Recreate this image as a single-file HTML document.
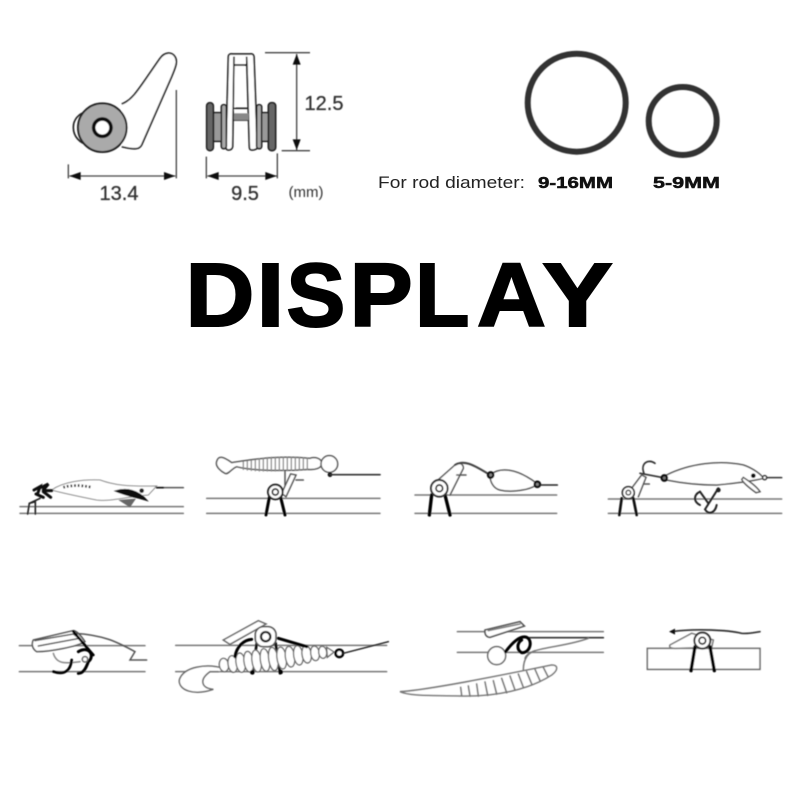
<!DOCTYPE html>
<html><head><meta charset="utf-8"><style>
html,body{margin:0;padding:0;background:#fff}
svg{display:block}
text{font-family:"Liberation Sans",sans-serif}
</style></head><body>
<svg width="800" height="800" viewBox="0 0 800 800" xmlns="http://www.w3.org/2000/svg">
<defs><filter id="b" x="-5%" y="-5%" width="110%" height="110%"><feGaussianBlur stdDeviation="0.55"/></filter></defs>
<rect width="800" height="800" fill="#fff"/>

<g filter="url(#b)"><g transform="translate(50 30) scale(.33333)" fill="none" stroke="#222" stroke-width="5">
 <path d="M215 222C250 210 270 170 330 85C345 65 365 65 375 80C385 95 375 115 365 140L275 345C268 358 255 360 215 350" fill="#fff"/>
 <path d="M110 245C85 250 70 270 70 292C70 320 90 340 115 345" stroke-width="5"/>
 <circle cx="157" cy="293" r="73" fill="#aaa" stroke="#222" stroke-width="6"/>
 <circle cx="157" cy="293" r="26" fill="#fff" stroke="#111" stroke-width="11"/>
 <path d="M379 180V445M55 403V445M58 438H376" stroke-width="4" stroke="#444"/>
 <path d="M58 438L92 426V450ZM376 438L342 426V450Z" fill="#111" stroke="none"/>
 <path d="M528 350L535 80Q536 70 548 72H600Q610 70 612 80L622 350Q622 360 605 360Q598 360 598 350L590 80M552 80L548 350Q546 360 535 360Q528 360 528 350M552 105H590M552 235H592M550 255H597M550 270H597" fill="#fff"/>
 <path d="M552 250H596V270H552Z" fill="#888" stroke="none"/>
 <rect x="490" y="248" width="26" height="86" fill="#999"/>
 <rect x="470" y="218" width="20" height="144" rx="10" fill="#666"/>
 <rect x="514" y="224" width="15" height="132" rx="7" fill="#aaa"/>
 <rect x="634" y="248" width="24" height="86" fill="#999"/>
 <rect x="655" y="218" width="22" height="144" rx="10" fill="#666"/>
 <rect x="620" y="224" width="15" height="132" rx="7" fill="#aaa"/>
 <path d="M645 68H780M695 362H780M740 72V360M469 380V445M682 370V445M472 438H680" stroke-width="4" stroke="#444"/>
 <path d="M740 72L728 104H752ZM740 360L728 328H752ZM472 438L506 426V450ZM680 438L646 426V450Z" fill="#111" stroke="none"/>
</g>
<text x="119" y="200" font-size="20" fill="#333" stroke="#333" stroke-width=".3" text-anchor="middle">13.4</text>
<text x="245" y="200" font-size="20" fill="#333" stroke="#333" stroke-width=".3" text-anchor="middle">9.5</text>
<text x="324" y="110" font-size="20" fill="#333" stroke="#333" stroke-width=".3" text-anchor="middle">12.5</text>
<text x="306" y="197" font-size="15" fill="#333" text-anchor="middle">(mm)</text>
<circle cx="576.7" cy="102.7" r="49" fill="none" stroke="#333" stroke-width="6"/>
<circle cx="682.7" cy="121" r="34" fill="none" stroke="#333" stroke-width="6"/>
</g>
<text x="378" y="188" font-size="17" fill="#222" textLength="147" lengthAdjust="spacingAndGlyphs">For rod diameter:</text>
<text x="538" y="188" font-size="15.5" font-weight="700" fill="#111" stroke="#111" stroke-width=".5" textLength="75" lengthAdjust="spacingAndGlyphs">9-16MM</text>
<text x="653" y="188" font-size="15.5" font-weight="700" fill="#111" stroke="#111" stroke-width=".5" textLength="67" lengthAdjust="spacingAndGlyphs">5-9MM</text>

<g font-size="90" font-weight="700" fill="#000" stroke="#000" stroke-width="2">
 <text transform="translate(185.5 326) scale(1.06 1)">D</text>
 <text transform="translate(256.5 326) scale(1.115 1)">I</text>
 <text transform="translate(286.5 326) scale(.98 1)">S</text>
 <text transform="translate(349.6 326) scale(1.05 1)">P</text>
 <text transform="translate(415 326) scale(.99 1)">L</text>
 <text transform="translate(477 326) scale(1.06 1)">A</text>
 <text transform="translate(542.4 326) scale(1.17 1)">Y</text>
</g>

<g filter="url(#b)">
<g transform="translate(10 440) scale(.33333)" fill="none" stroke="#666" stroke-width="4.5" stroke-linecap="round">
 <path d="M30 200H520M30 220H520M590 175H1110M590 220H1110" stroke="#777"/>
 <path d="M125 150C160 125 220 118 270 120C310 135 350 140 440 138L415 165C350 170 300 185 260 180C210 170 160 160 125 150Z" fill="#fff" stroke="#888" stroke-width="3"/>
 <path d="M72 150L90 140L84 158M95 142L115 132L100 150M78 162L100 172M100 155L122 172M105 152L125 152" stroke="#111" stroke-width="9"/>
 <path d="M160 142C185 135 215 135 245 142" stroke="#111" stroke-width="8" stroke-dasharray="5 6" stroke-linecap="butt"/>
 <path d="M315 153C350 142 385 150 412 182C380 172 350 168 315 153Z" fill="#111" stroke="#111" stroke-width="3"/>
 <path d="M325 180L378 176L360 202Z" fill="#666" stroke="none"/>
 <circle cx="395" cy="152" r="7" fill="#222" stroke="none"/>
 <path d="M440 143H520" stroke="#555"/><path d="M440 143H460" stroke="#111" stroke-width="5"/>
 <path d="M53 222L58 190L76 185V222M58 190L90 175" stroke="#222" stroke-width="5"/>

 <path d="M620 65C625 45 640 50 665 68C720 60 800 45 900 55C915 50 935 55 935 70C935 85 915 90 895 88C800 95 720 90 680 80C665 85 655 105 645 100C635 95 615 80 620 65Z" fill="#fff" stroke="#555"/>
 <path d="M700 66V88M712 64V90M724 62V91M736 60V92M748 57V93M760 55V93M772 53V93M784 52V93M796 52V93M808 52V92M820 52V92M832 52V92M844 52V91M856 52V91M868 53V90M880 54V89M892 55V88" stroke="#888" stroke-width="4"/>
 <circle cx="958" cy="72" r="25" fill="#fff" stroke="#555"/>
 <circle cx="960" cy="104" r="7" fill="#111" stroke="none"/>
 <path d="M960 104H1110" stroke="#333" stroke-width="5"/>
 <path d="M825 95V135M858 120H880" stroke="#555"/>
 <path d="M815 160L842 102L858 105L828 170Z" fill="#fff" stroke="#555"/>
 <path d="M778 172L768 225M812 172L825 225" stroke="#000" stroke-width="9"/>
 <circle cx="796" cy="156" r="22" fill="#fff" stroke="#222" stroke-width="6"/>
 <circle cx="796" cy="156" r="9" fill="#fff" stroke="#222" stroke-width="5"/>
</g>

<g transform="translate(400 440) scale(.33333)" fill="none" stroke="#666" stroke-width="4.5" stroke-linecap="round">
 <path d="M45 165H470M45 220H470M625 177H1145M625 220H1145" stroke="#777"/>
 <path d="M105 128L165 75C175 65 190 70 190 85L150 165M170 105H198" fill="#fff" stroke="#555"/>
 <path d="M165 75C190 60 215 70 270 105" stroke="#444" stroke-width="6"/>
 <path d="M270 105C300 80 350 85 410 130C410 145 340 160 300 150C280 145 270 125 270 105Z" fill="#fff" stroke="#555"/>
 <circle cx="272" cy="105" r="8" fill="#888" stroke="#111" stroke-width="7"/>
 <circle cx="412" cy="133" r="8" fill="#888" stroke="#111" stroke-width="7"/>
 <path d="M420 135H472" stroke="#222"/>
 <path d="M95 165L88 225M135 165L150 225" stroke="#000" stroke-width="10"/>
 <circle cx="118" cy="145" r="25" fill="#fff" stroke="#333" stroke-width="6"/>
 <circle cx="118" cy="145" r="10" fill="#fff" stroke="#222" stroke-width="5"/>

 <path d="M800 105C870 70 960 60 1030 75C1060 85 1085 105 1090 115C1050 125 1000 130 950 135C900 135 850 130 800 120Z" fill="#fff" stroke="#555"/>
 <path d="M1030 112C1050 125 1070 140 1080 155L1068 158C1050 145 1030 130 1025 118Z" fill="#fff" stroke="#555"/>
 <circle cx="1060" cy="107" r="7" fill="#111" stroke="none"/>
 <circle cx="1094" cy="113" r="6" fill="#fff" stroke="#333"/>
 <path d="M1100 113H1145" stroke="#333"/>
 <path d="M955 145L915 208C925 225 945 220 950 195M925 190L900 155C880 165 880 185 900 195" stroke="#222" stroke-width="6"/>
 <circle cx="955" cy="150" r="7" fill="#222" stroke="none"/>
 <path d="M732 100C720 70 745 55 765 70M720 100L790 113" stroke="#333" stroke-width="5"/>
 <circle cx="793" cy="114" r="8" fill="#777" stroke="#111" stroke-width="7"/>
 <path d="M695 145L725 105L738 112L715 170M730 132H748" fill="#fff" stroke="#555"/>
 <path d="M665 175L658 225M700 175L710 225" stroke="#111" stroke-width="8"/>
 <circle cx="685" cy="158" r="18" fill="#fff" stroke="#333" stroke-width="5"/>
 <circle cx="685" cy="158" r="7" fill="#fff" stroke="#222" stroke-width="4"/>
</g>

<g transform="translate(10 610) scale(.33333)" fill="none" stroke="#666" stroke-width="4.5" stroke-linecap="round">
 <path d="M28 107H405M28 185H405M497 106H1130M497 185H1130" stroke="#777"/>
 <path d="M70 90L190 62C200 62 215 80 225 95C200 110 120 125 80 125C65 115 65 100 70 90Z" fill="#fff" stroke="#555"/>
 <path d="M75 92L190 72L208 85L85 108" stroke="#555"/>
 <path d="M195 70C280 75 320 95 375 125L360 150H410" stroke="#555"/>
 <path d="M130 130C140 165 170 160 210 155" stroke="#888"/>
 <path d="M190 65L250 135" stroke="#000" stroke-width="8"/>
 <path d="M205 125C240 105 255 140 235 155C228 175 220 190 205 190" stroke="#000" stroke-width="9"/>
 <path d="M185 150C182 180 165 197 130 185" stroke="#000" stroke-width="8"/>
 <circle cx="225" cy="148" r="8" fill="#fff" stroke="#666"/>

 <path d="M640 175C590 160 520 170 508 210C505 240 550 258 610 238C575 235 565 210 600 185L625 185" fill="#fff" stroke="#666"/>
 <path d="M740 100L728 190M797 100L810 190" stroke="#111" stroke-width="8"/>
 <g fill="#fff" stroke="#666" stroke-width="4">
  <ellipse cx="642" cy="165" rx="14" ry="20" transform="rotate(-8 642 165)"/>
  <ellipse cx="668" cy="162" rx="14" ry="25" transform="rotate(-8 668 162)"/>
  <ellipse cx="692" cy="158" rx="14" ry="29" transform="rotate(-8 692 158)"/>
  <ellipse cx="716" cy="155" rx="14" ry="31" transform="rotate(-8 716 155)"/>
  <ellipse cx="740" cy="153" rx="14" ry="33" transform="rotate(-8 740 153)"/>
  <ellipse cx="765" cy="150" rx="14" ry="34" transform="rotate(-8 765 150)"/>
  <ellipse cx="790" cy="147" rx="14" ry="35" transform="rotate(-8 790 147)"/>
  <ellipse cx="815" cy="144" rx="14" ry="33" transform="rotate(-8 815 144)"/>
  <ellipse cx="840" cy="140" rx="14" ry="31" transform="rotate(-8 840 140)"/>
  <ellipse cx="865" cy="136" rx="14" ry="29" transform="rotate(-8 865 136)"/>
  <ellipse cx="890" cy="133" rx="14" ry="26" transform="rotate(-8 890 133)"/>
  <ellipse cx="915" cy="130" rx="13" ry="22" transform="rotate(-8 915 130)"/>
  <ellipse cx="938" cy="127" rx="12" ry="18" transform="rotate(-8 938 127)"/>
  <path d="M950 112L972 126L952 142Z"/>
 </g>
 <circle cx="727" cy="187" r="7" fill="#000" stroke="none"/>
 <circle cx="812" cy="186" r="7" fill="#000" stroke="none"/>
 <circle cx="988" cy="130" r="11" fill="#fff" stroke="#000" stroke-width="8"/>
 <path d="M1000 130L1135 95" stroke="#222"/>
 <path d="M640 90L745 32L768 42L660 103Z" fill="#fff" stroke="#666"/>
 <path d="M675 140C680 110 700 90 725 88M805 85L890 110" stroke="#000" stroke-width="9"/>
 <rect x="736" y="50" width="62" height="60" rx="24" fill="#fff" stroke="#555" stroke-width="5"/>
 <circle cx="767" cy="80" r="14" fill="#fff" stroke="#222" stroke-width="7"/>
</g>

<g transform="translate(395 610) scale(.33333)" fill="none" stroke="#666" stroke-width="4.5" stroke-linecap="round">
 <path d="M187 65H625M187 127H625" stroke="#777"/>
 <path d="M400 83H625" stroke="#333" stroke-width="5"/>
 <path d="M270 60L375 35L388 48L285 82Q268 80 270 60Z" fill="#fff" stroke="#555" stroke-width="5"/>
 <path d="M280 62L375 42" stroke="#777"/>
 <circle cx="305" cy="137" r="27" fill="#fff" stroke="#666"/>
 <path d="M332 125C350 100 375 75 395 82C415 92 405 130 380 128C365 120 365 100 380 90" stroke="#000" stroke-width="9"/>
 <path d="M390 145C400 110 500 115 580 85" stroke="#777"/>
 <path d="M385 180C385 150 395 130 420 122" stroke="#777"/>
 <path d="M15 245C100 240 300 200 470 165C490 165 490 180 470 195C400 240 300 260 200 258C120 255 50 260 15 245Z" fill="#fff" stroke="#777"/>
 <path d="M197 232L200 256M220 228L225 258M245 222L250 258M270 216L278 256M295 212L305 252M320 205L335 248M345 198L360 240M370 192L385 232M395 185L410 222M420 178L435 212M445 172L458 198" stroke="#777" stroke-width="5"/>

 <path d="M757 115H1095V178H757Z" fill="#fff" stroke="#666"/>
 <path d="M825 105L890 70L955 90L950 112L840 115Q820 115 825 105Z" fill="#fff" stroke="#777"/>
 <path d="M830 65C900 55 1000 60 1040 70C1060 72 1075 68 1095 65" stroke="#333" stroke-width="5"/>
 <path d="M822 65L840 56V74Z" fill="#111" stroke="none"/>
 <path d="M900 110L888 182M945 110L958 182" stroke="#000" stroke-width="10"/>
 <circle cx="922" cy="92" r="24" fill="#fff" stroke="#333" stroke-width="6"/>
 <circle cx="922" cy="92" r="10" fill="#fff" stroke="#222" stroke-width="5"/>
</g>
</g>
</svg>
</body></html>
